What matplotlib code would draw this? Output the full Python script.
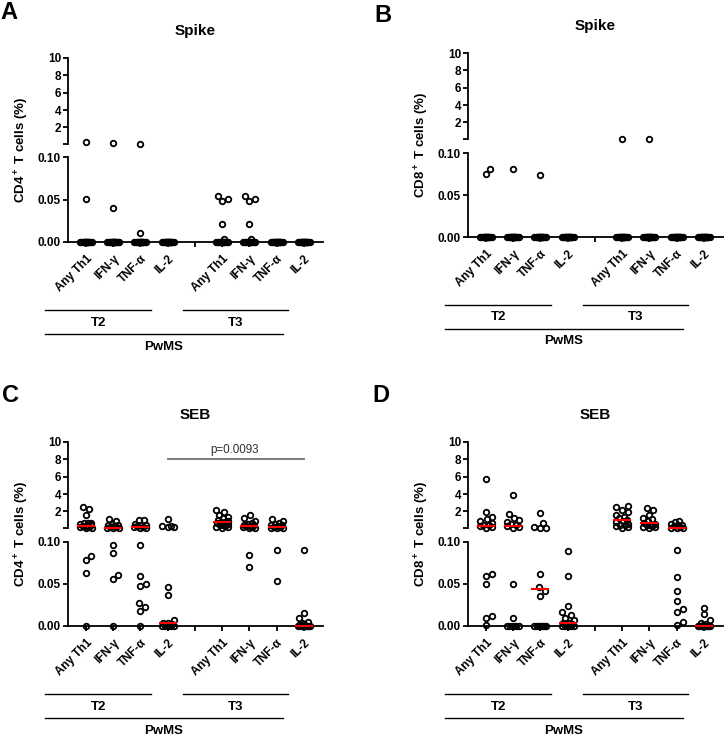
import numpy as np
import matplotlib
matplotlib.use('Agg')
import matplotlib.pyplot as plt
from matplotlib.lines import Line2D
from matplotlib.transforms import blended_transform_factory

plt.rcParams['font.family'] = ['Liberation Sans', 'DejaVu Sans']
plt.rcParams['font.weight'] = 'bold'
plt.rcParams['mathtext.fontset'] = 'custom'
plt.rcParams['mathtext.rm'] = 'Liberation Sans:bold'
plt.rcParams['mathtext.it'] = 'Liberation Sans:bold'
plt.rcParams['mathtext.bf'] = 'Liberation Sans:bold'

W, H = 724, 738

cytokines = ['Any Th1', 'IFN-γ', 'TNF-α', 'IL-2']
tick_labels = cytokines + [''] + cytokines
group_pos = [0, 1, 2, 3, 5, 6, 7, 8]

# non-zero values per group (T2 x4, T3 x4) and number of zero values
a_vals = [[0.32, 0.051], [0.17, 0.040], [0.11, 0.011], [],
          [0.054, 0.051, 0.048, 0.021, 0.004],
          [0.054, 0.051, 0.048, 0.021, 0.004], [], []]
a_zeros = [16, 16, 16, 18, 13, 13, 18, 18]

b_vals = [[0.081, 0.075], [0.081], [0.074], [], [0.12], [0.12], [], []]
b_zeros = [16, 17, 17, 18, 17, 17, 18, 18]

c_vals = [
    [2.55, 2.25, 1.56, 0.71, 0.70, 0.65, 0.55, 0.45, 0.38, 0.30, 0.25, 0.20,
     0.15, 0.12, 0.083, 0.078, 0.063],
    [1.10, 0.95, 0.60, 0.50, 0.40, 0.30, 0.25, 0.20, 0.15, 0.12, 0.11, 0.096,
     0.087, 0.061, 0.056],
    [1.05, 1.00, 0.60, 0.50, 0.40, 0.30, 0.25, 0.20, 0.15, 0.12, 0.096, 0.060,
     0.050, 0.048, 0.027, 0.023, 0.018],
    [1.15, 0.35, 0.30, 0.25, 0.20, 0.046, 0.037, 0.007, 0.004, 0.003, 0.002,
     0.001, 0.001],
    [2.2, 1.9, 1.6, 1.4, 1.2, 1.05, 0.9, 0.8, 0.75, 0.65, 0.55, 0.45, 0.4, 0.3,
     0.25, 0.2, 0.15],
    [1.6, 1.2, 0.9, 0.7, 0.6, 0.5, 0.4, 0.35, 0.3, 0.25, 0.2, 0.15, 0.12, 0.084,
     0.070],
    [1.15, 0.9, 0.7, 0.6, 0.5, 0.4, 0.3, 0.25, 0.2, 0.15, 0.12, 0.11, 0.090,
     0.054],
    [0.090, 0.016, 0.010, 0.005, 0.003, 0.002, 0.001],
]
c_zeros = [1, 1, 1, 5, 0, 0, 0, 8]
c_medians = [0.33, 0.13, 0.25, 0.004, 0.76, 0.36, 0.25, 0.0]

d_vals = [
    [5.74, 1.98, 1.4, 1.1, 0.9, 0.7, 0.5, 0.4, 0.3, 0.2, 0.15, 0.062, 0.060,
     0.050, 0.012, 0.010, 0.001],
    [3.9, 1.68, 1.2, 1.0, 0.8, 0.6, 0.45, 0.3, 0.2, 0.15, 0.050, 0.010],
    [1.79, 0.64, 0.2, 0.15, 0.12, 0.062, 0.046, 0.042, 0.036],
    [0.089, 0.059, 0.024, 0.017, 0.013, 0.010, 0.007, 0.004, 0.003, 0.002,
     0.001],
    [2.6, 2.5, 2.2, 1.9, 1.6, 1.4, 1.2, 1.0, 0.9, 0.8, 0.6, 0.5, 0.4, 0.3, 0.2,
     0.15],
    [2.4, 2.2, 1.65, 1.3, 1.1, 0.9, 0.7, 0.6, 0.5, 0.4, 0.3, 0.25, 0.2, 0.15],
    [0.95, 0.75, 0.6, 0.5, 0.4, 0.3, 0.2, 0.15, 0.12, 0.11, 0.091, 0.058, 0.042,
     0.030, 0.020, 0.017, 0.005, 0.001],
    [0.022, 0.014, 0.007, 0.003, 0.002, 0.001],
]
d_zeros = [0, 5, 8, 6, 0, 0, 0, 10]
d_medians = [0.36, 0.30, 0.044, 0.003, 1.02, 0.64, 0.12, 0.0]

p_text = 'p=0.0093'
p_span = (2.97, 8.04)

brk = 0.1
ax_w = 255
xlim = (-0.66, -0.66 + ax_w / 27.25)

fig = plt.figure(figsize=(W / 100, H / 100), dpi=100)


def add_ax(left, top, bottom):
    return fig.add_axes([left / W, 1 - bottom / H, ax_w / W, (bottom - top) / H])


def style(ax):
    ax.patch.set_visible(False)
    ax.spines['top'].set_visible(False)
    ax.spines['right'].set_visible(False)
    ax.spines['left'].set_linewidth(1.3)
    ax.spines['bottom'].set_linewidth(1.3)
    ax.tick_params(direction='out', length=3.5, width=1.3, labelsize=8.5, pad=1.5)
    ax.set_xlim(xlim)


def swarm(ypx, d=6.5, half=6.0):
    cands = [0.0]
    for k in np.arange(0.5, half + 0.01, 0.5):
        cands += [k, -k]
    xs = np.zeros(len(ypx))
    placed = []
    for i in np.argsort(ypx):
        best, best_md = 0.0, -1
        for c in cands:
            md = min([np.hypot(c - px, ypx[i] - py) for px, py in placed] or [np.inf])
            if md >= d:
                best = c
                break
            if md > best_md:
                best, best_md = c, md
        xs[i] = best
        placed.append((best, ypx[i]))
    return xs


def panel(letter, letter_xy, title, ylabel, left, up, lo, vals, zeros,
          medians=None, pval=None):
    ax_up = add_ax(left, *up)
    ax_lo = add_ax(left, *lo)
    for ax in (ax_up, ax_lo):
        style(ax)
    ax_up.spines['bottom'].set_visible(False)
    ax_up.set_ylim(brk, 10)
    ax_up.set_yticks([brk, 2, 4, 6, 8, 10])
    ax_up.set_yticklabels(['', '2', '4', '6', '8', '10'])
    ax_up.set_xticks([])
    ax_lo.set_ylim(0, brk)
    ax_lo.set_yticks([0, 0.05, 0.1])
    ax_lo.set_yticklabels(['0.00', '0.05', '0.10'])
    ax_lo.set_xticks(range(9))
    ax_lo.set_xticklabels(tick_labels, rotation=45, ha='right',
                          rotation_mode='anchor', fontsize=8.5)
    ax_lo.tick_params(axis='x', pad=4)

    ppx = ax_lo.transData.transform((1, 0))[0] - ax_lo.transData.transform((0, 0))[0]
    for g, p in enumerate(group_pos):
        v = np.array(list(vals[g]) + [0.0] * zeros[g])
        on_up = v > brk
        ypx = np.array([(ax_up if u else ax_lo).transData.transform((p, val))[1]
                        for u, val in zip(on_up, v)])
        off = swarm(ypx) / ppx
        for ax, m in ((ax_up, on_up), (ax_lo, ~on_up)):
            if m.any():
                ax.plot(p + off[m], v[m], 'o', ms=4.0, mfc='none', mec='black',
                        mew=1.3, clip_on=False, zorder=3)
        if medians is not None:
            med = medians[g]
            ax = ax_up if med > brk else ax_lo
            ax.hlines(med, p - 0.33, p + 0.33, color='red', lw=1.5, zorder=4,
                      clip_on=False)

    if pval is not None:
        ax_up.hlines(8.0, *p_span, color='#808080', lw=1.5, clip_on=False)
        ax_up.text(np.mean(p_span) - 0.05, 9.1, pval, ha='center', va='center',
                   fontsize=8.4, fontweight='normal', color='#333333')

    # group brackets under the rotated labels
    bot = lo[1]
    tr = blended_transform_factory(ax_lo.transData, fig.transFigure)
    for x0, x1, name, dy in ((-1.5, 2.39, 'T2', 68), (3.56, 7.41, 'T3', 68),
                             (-1.5, 7.23, 'PwMS', 92)):
        yl = 1 - (bot + dy) / H
        ax_lo.add_line(Line2D([x0, x1], [yl, yl], transform=tr, color='black',
                              lw=1.0, clip_on=False))
        ax_lo.text((x0 + x1) / 2, 1 - (bot + dy + 12.5) / H, name, transform=tr,
                   ha='center', va='center', fontsize=9.5, fontweight='bold')

    fig.text((left + ax_w / 2) / W, 1 - (up[0] - 23) / H, title, ha='center',
             va='baseline', fontsize=11, fontweight='bold')
    fig.text((left - 46) / W, 1 - ((up[0] + lo[1]) / 2) / H, ylabel,
             rotation=90, ha='center', va='center', fontsize=9.5, fontweight='bold')
    fig.text(letter_xy[0] / W, 1 - letter_xy[1] / H, letter, ha='left',
             va='baseline', fontsize=17, fontweight='bold')


panel('A', (0, 19), 'Spike', r'CD4$^+$ T cells (%)', 68, (58, 144), (157, 242),
      a_vals, a_zeros)
panel('B', (374, 22), 'Spike', r'CD8$^+$ T cells (%)', 468, (53, 139), (153, 237),
      b_vals, b_zeros)
panel('C', (2, 402), 'SEB', r'CD4$^+$ T cells (%)', 68, (442, 528), (542, 626),
      c_vals, c_zeros, medians=c_medians, pval=p_text)
panel('D', (372, 402), 'SEB', r'CD8$^+$ T cells (%)', 468, (442, 528), (542, 626),
      d_vals, d_zeros, medians=d_medians)

fig.savefig('out.png', dpi=100)
